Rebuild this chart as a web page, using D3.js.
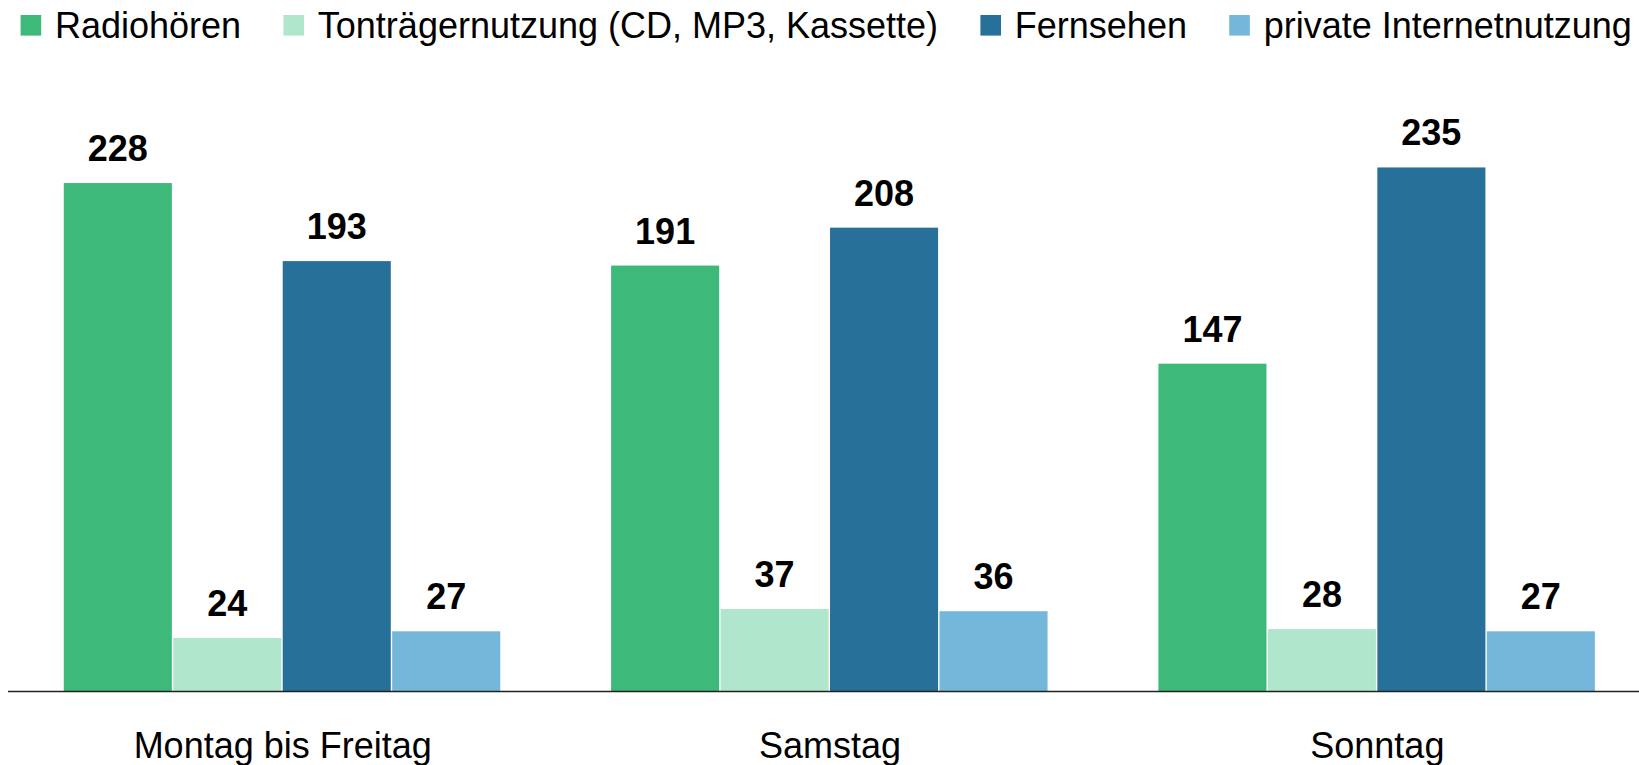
<!DOCTYPE html>
<html>
<head>
<meta charset="utf-8">
<script src="https://cdn.jsdelivr.net/npm/d3@7/dist/d3.min.js"></script>
<style>
  html, body { margin: 0; padding: 0; background: #fff; }
  svg { display: block; font-family: "Liberation Sans", Arial, sans-serif; }
</style>
</head>
<body>
<svg id="chart" width="1639" height="765"></svg>
<script>
const categories = ["Montag bis Freitag", "Samstag", "Sonntag"];
const seriesNames = ["Radiohören", "Tonträgernutzung (CD, MP3, Kassette)", "Fernsehen", "private Internetnutzung"];
const radio = [228, 191, 147];
const tontraeger = [24, 37, 28];
const fernsehen = [193, 208, 235];
const internet = [27, 36, 27];
const colors = ["#3DB97A", "#B0E6CB", "#277099", "#74B7DB"];

const seriesValues = [radio, tontraeger, fernsehen, internet];

const svg = d3.select("#chart");
const W = 1639, H = 765;
const baseY = 691.5;

const x0 = d3.scaleBand().domain(categories).range([9.05, 1651]).paddingInner(0.2).paddingOuter(0.1);
const x1 = d3.scaleBand().domain(seriesNames).range([0, x0.bandwidth()]).padding(0);
const y = d3.scaleLinear().domain([0, 250]).range([baseY, baseY - 2.23 * 250]);

// bars
const groups = svg.append("g").selectAll("g")
  .data(categories)
  .join("g")
  .attr("transform", d => `translate(${x0(d)},0)`);

groups.selectAll("rect")
  .data((c, ci) => seriesNames.map((s, si) => ({ s, si, v: seriesValues[si][ci] })))
  .join("rect")
  .attr("x", d => x1(d.s))
  .attr("y", d => y(d.v))
  .attr("width", x1.bandwidth() - 1.4)
  .attr("height", d => y(0) - y(d.v))
  .attr("fill", d => colors[d.si]);

groups.selectAll("text.val")
  .data((c, ci) => seriesNames.map((s, si) => ({ s, si, v: seriesValues[si][ci] })))
  .join("text")
  .attr("class", "val")
  .attr("x", d => x1(d.s) + (x1.bandwidth() - 1.4) / 2)
  .attr("y", d => y(d.v) - 22)
  .attr("text-anchor", "middle")
  .attr("font-size", 36)
  .attr("font-weight", "bold")
  .attr("fill", "#000")
  .text(d => d.v);

// x axis
const xAxis = d3.axisBottom(x0).tickSize(0).tickPadding(0);
const axisG = svg.append("g").attr("transform", `translate(0,${baseY})`).call(xAxis);
axisG.select(".domain").remove();
axisG.selectAll("text")
  .attr("font-size", 36)
  .attr("font-family", "'Liberation Sans', Arial, sans-serif")
  .attr("fill", "#000")
  .attr("dy", null)
  .attr("y", 758 - baseY);
svg.append("line")
  .attr("x1", 8).attr("x2", W)
  .attr("y1", baseY).attr("y2", baseY)
  .attr("stroke", "#222").attr("stroke-width", 1.6);

// legend
const legend = svg.append("g");
let lx = 20.6;
seriesNames.forEach((name, i) => {
  legend.append("rect")
    .attr("x", lx).attr("y", 15)
    .attr("width", 20.6).attr("height", 20.6)
    .attr("fill", colors[i]);
  const t = legend.append("text")
    .attr("x", lx + 34.4).attr("y", 38.3)
    .attr("font-size", 36)
    .attr("fill", "#000")
    .text(name);
  lx = lx + 34.4 + t.node().getComputedTextLength() + 42.3;
});
</script>
</body>
</html>
